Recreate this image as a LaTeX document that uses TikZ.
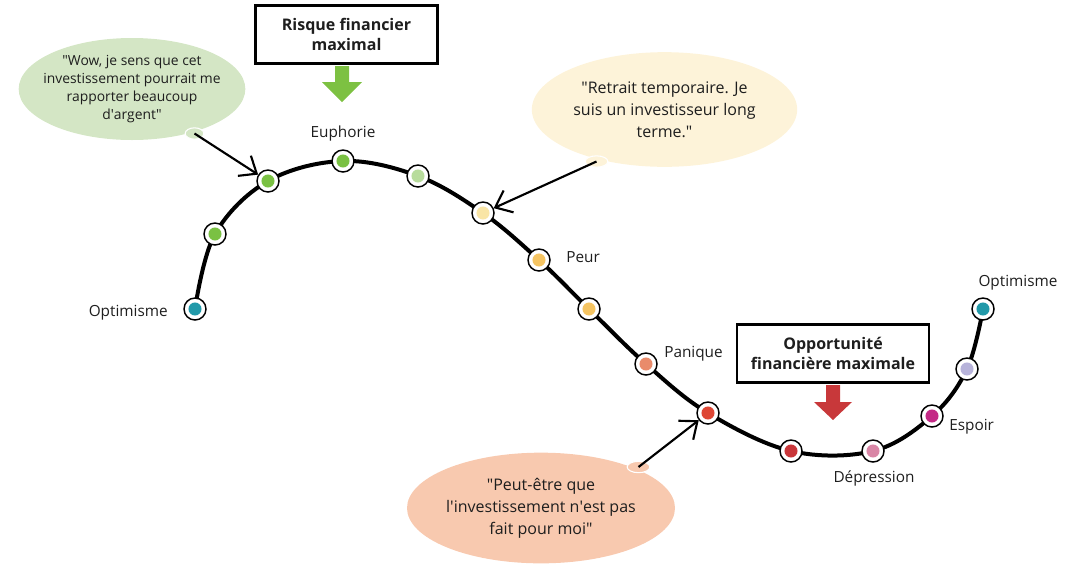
\documentclass[tikz,border=0pt]{standalone}
\usepackage{fontspec}
\setmainfont{Open Sans}
\usetikzlibrary{positioning,shapes.geometric,arrows.meta,backgrounds}

\definecolor{txt}{HTML}{1E1E1E}
\definecolor{cteal}{HTML}{2199A9}
\definecolor{cgreen}{HTML}{7AC143}
\definecolor{clgreen}{HTML}{B8DC9C}
\definecolor{clyellow}{HTML}{F9E5A6}
\definecolor{cyellow}{HTML}{F5C462}
\definecolor{corange}{HTML}{E98B6B}
\definecolor{cred}{HTML}{DE4634}
\definecolor{cdred}{HTML}{C9363A}
\definecolor{cpink}{HTML}{D986A6}
\definecolor{cmagenta}{HTML}{C42A86}
\definecolor{clavender}{HTML}{B7B3DA}
\definecolor{bgreen}{HTML}{D4E6C5}
\definecolor{byellow}{HTML}{FDF3D9}
\definecolor{borange}{HTML}{F8C9AF}
\definecolor{agreen}{HTML}{7DC142}
\definecolor{ared}{HTML}{C8383A}

\newcommand{\dq}{\textquotedbl}
\newcommand{\sq}{\textquotesingle}

\begin{document}
\begin{tikzpicture}[x=0.75pt,y=-0.75pt,
	stage/.style={circle,draw=black,line width=1.1pt,fill=white,minimum size=16.5pt,inner sep=0pt,
		path picture={\fill[#1] (path picture bounding box.center) circle (4.9pt);}},
	lbl/.style={font=\fontsize{11.5}{14}\selectfont,text=txt,inner sep=0pt},
	bubble/.style={ellipse,fill=#1,align=center,inner sep=-8pt,text=txt},
	tail/.style={ellipse,fill=#1,draw=white,line width=0.8pt,inner sep=0pt,minimum width=17pt,minimum height=8.5pt},
	talk/.style={-{Straight Barb[length=11pt,width=18pt]},line width=1.6pt},
	titlebox/.style={draw,line width=2.2pt,align=center,text=txt,minimum height=44pt,
		font=\fontsize{12}{15}\selectfont\bfseries}]
	\useasboundingbox (0,0) rectangle (1067,565);

	% stages along the cycle
	\node [stage=cteal] (O1) at (195,309) {};
	\node [stage=cgreen] (G1) at (215,234) {};
	\node [stage=cgreen] (G2) at (268,181) {};
	\node [stage=cgreen] (G3) at (343,161) {};
	\node [stage=clgreen] (G4) at (418,176) {};
	\node [stage=clyellow] (Y1) at (483,213) {};
	\node [stage=cyellow] (Y2) at (539,260) {};
	\node [stage=cyellow] (Y3) at (589,309) {};
	\node [stage=corange] (P) at (646,364) {};
	\node [stage=cred] (R1) at (708,413) {};
	\node [stage=cdred] (R2) at (791,451) {};
	\node [stage=cpink] (D) at (873,451) {};
	\node [stage=cmagenta] (E) at (932,416) {};
	\node [stage=clavender] (L) at (967,369) {};
	\node [stage=cteal] (O2) at (983,309) {};
	\begin{pgfonlayer}{background}
		\draw [line width=3pt] plot [smooth,tension=0.6] coordinates {(O1.center) (G1.center) (G2.center) (G3.center) (G4.center)
			(Y1.center) (Y2.center) (Y3.center) (P.center) (R1.center) (R2.center) (D.center) (E.center) (L.center) (O2.center)};
	\end{pgfonlayer}

	% stage names
	\node [lbl,anchor=east] (tOpt1) at (168,313) {Optimisme};
	\node [lbl] (tEuph) at (343,134) {Euphorie};
	\node [lbl,anchor=west] (tPeur) at (566,257) {Peur};
	\node [lbl,anchor=west] (tPan) at (664,354) {Panique};
	\node [lbl] (tDep) at (874,478) {Dépression};
	\node [lbl,anchor=west] (tEsp) at (949,427) {Espoir};
	\node [lbl] (tOpt2) at (1018,283) {Optimisme};

	% boxes and block arrows
	\node [titlebox,minimum width=137pt] (risk) at (346.5,34.5) {Risque financier\\maximal};
	\node [titlebox,minimum width=144pt] (opp) at (833,353.5) {Opportunité\\financière maximale};
	\fill [agreen] (335,66) -- (349,66) -- (349,82) -- (362,82) -- (342,102) -- (322,82) -- (335,82) -- cycle;
	\fill [ared] (826,385) -- (840,385) -- (840,402) -- (852,402) -- (833,420) -- (814,402) -- (826,402) -- cycle;

	% speech bubbles
	\node [bubble=bgreen,minimum width=170pt,minimum height=76.5pt,font=\fontsize{10.4}{13.5}\selectfont] (sayA) at (132,89)
		{\dq Wow, je sens que cet\\investissement pourrait me\\rapporter beaucoup\\d\sq argent\dq};
	\node [tail=bgreen,minimum width=14pt] (tailA) at (194.5,133.5) {};
	\node [bubble=byellow,minimum width=199pt,minimum height=86pt,font=\fontsize{12}{16.5}\selectfont] (sayB) at (664.5,109.5)
		{\dq Retrait temporaire. Je\\suis un investisseur long\\terme.\dq};
	\node [tail=byellow] (tailB) at (596.5,161.5) {};
	\node [bubble=borange,minimum width=201pt,minimum height=83pt,font=\fontsize{12}{16.5}\selectfont] (sayC) at (541,508)
		{\dq Peut-être que\\l\sq investissement n\sq est pas\\fait pour moi\dq};
	\node [tail=borange] (tailC) at (638.5,467) {};

	\draw [talk] (tailA.center) -- (G2);
	\draw [talk] (tailB.center) -- (Y1);
	\draw [talk] (tailC.center) -- (R1);
\end{tikzpicture}
\end{document}
